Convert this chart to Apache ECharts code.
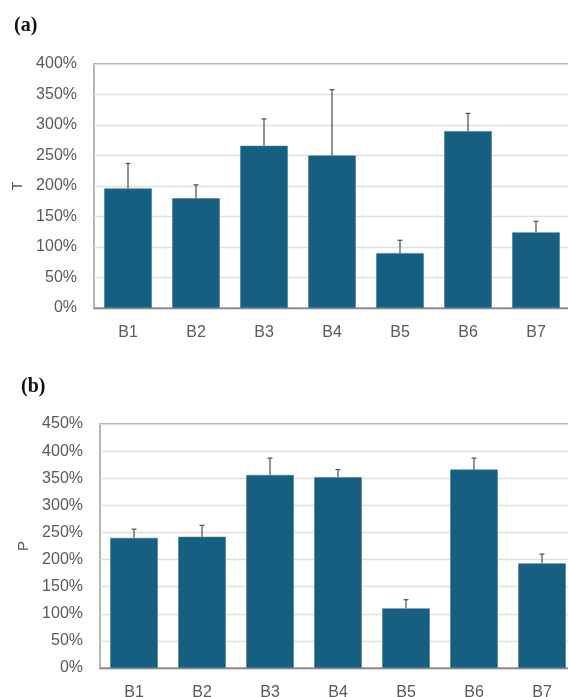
<!DOCTYPE html>
<html>
<head>
<meta charset="utf-8">
<script src="https://cdn.jsdelivr.net/npm/echarts@6/dist/echarts.min.js"></script>
<style>
  html, body { margin: 0; padding: 0; background: #fff; }
  #chart { width: 568px; height: 697px; }
</style>
</head>
<body>
<div id="chart"></div>
<script>
// Categories shared by both panels
const categories = ['B1', 'B2', 'B3', 'B4', 'B5', 'B6', 'B7'];

// Panel (a): T, mean (%) and upper error (%)
const tMean = [196, 180, 266, 250, 90, 290, 124];
const tErr  = [41, 22, 44, 108, 21, 29, 18];

// Panel (b): P, mean (%) and upper error (%)
const pMean = [240, 242, 356, 352, 110, 366, 193];
const pErr  = [16, 21, 31, 14, 16, 21, 17];

// Y-axis tick settings
const tTicks = { min: 0, max: 400, interval: 50 };
const pTicks = { min: 0, max: 450, interval: 50 };

const barColor = '#175f80';
const textColor = '#595959';
const labelFont = 'Liberation Sans, Arial, sans-serif';

function errorSeries(idx, mean, err) {
  return {
    type: 'custom',
    xAxisIndex: idx,
    yAxisIndex: idx,
    z: 5,
    data: mean.map((m, i) => [i, m, m + err[i]]),
    renderItem: function (params, api) {
      const base = api.coord([api.value(0), api.value(1)]);
      const top = api.coord([api.value(0), api.value(2)]);
      const cap = 2.5;
      const style = { stroke: '#595959', lineWidth: 1.3 };
      return {
        type: 'group',
        children: [
          { type: 'line', shape: { x1: base[0], y1: base[1], x2: top[0], y2: top[1] }, style: style },
          { type: 'line', shape: { x1: top[0] - cap, y1: top[1], x2: top[0] + cap, y2: top[1] }, style: style }
        ]
      };
    }
  };
}

function xAxis(idx) {
  return {
    type: 'category',
    gridIndex: idx,
    data: categories,
    axisLine: { show: true, lineStyle: { color: '#8c8c8c', width: 1.3 } },
    axisTick: { show: false },
    axisLabel: { color: textColor, fontSize: 16, fontFamily: labelFont, margin: 17 }
  };
}

function yAxis(idx, ticks, name, gap) {
  return {
    type: 'value',
    gridIndex: idx,
    min: ticks.min,
    max: ticks.max,
    interval: ticks.interval,
    name: name,
    nameLocation: 'middle',
    nameGap: gap,
    nameRotate: 90,
    nameTextStyle: { color: textColor, fontSize: 15, fontFamily: labelFont },
    axisLine: { show: false },
    axisTick: { show: false },
    splitLine: { show: true, lineStyle: { color: '#e0e0e0', width: 1.3 } },
    axisLabel: { color: textColor, fontSize: 16, fontFamily: labelFont, margin: 17, formatter: '{value}%' }
  };
}

function barSeries(idx, mean) {
  return {
    type: 'bar',
    xAxisIndex: idx,
    yAxisIndex: idx,
    data: mean,
    barWidth: '70%',
    itemStyle: { color: barColor, borderColor: '#3f7d99', borderWidth: 0.6 },
    z: 2
  };
}

const chart = echarts.init(document.getElementById('chart'), null, { renderer: 'canvas' });
chart.setOption({
  animation: false,
  backgroundColor: '#ffffff',
  title: [
    {
      text: '{p|(}{b|a}{p|)}',
      left: 9, top: 11,
      textStyle: { rich: {
        p: { fontFamily: 'Liberation Serif, serif', fontSize: 20, color: '#111' },
        b: { fontFamily: 'Liberation Serif, serif', fontSize: 20, fontWeight: 'bold', color: '#111' }
      } }
    },
    {
      text: '{p|(}{b|b}{p|)}',
      left: 16, top: 372,
      textStyle: { rich: {
        p: { fontFamily: 'Liberation Serif, serif', fontSize: 20, color: '#111' },
        b: { fontFamily: 'Liberation Serif, serif', fontSize: 20, fontWeight: 'bold', color: '#111' }
      } }
    }
  ],
  grid: [
    { left: 94, top: 64, width: 476, height: 244, outerBoundsMode: 'none', containLabel: false,
      show: true, borderColor: '#8c8c8c', borderWidth: 1.3 },
    { left: 100, top: 424, width: 476, height: 244, outerBoundsMode: 'none', containLabel: false,
      show: true, borderColor: '#8c8c8c', borderWidth: 1.3 }
  ],
  xAxis: [xAxis(0), xAxis(1)],
  yAxis: [yAxis(0, tTicks, 'T', 64), yAxis(1, pTicks, 'P', 62)],
  series: [
    barSeries(0, tMean),
    errorSeries(0, tMean, tErr),
    barSeries(1, pMean),
    errorSeries(1, pMean, pErr)
  ]
});
</script>
</body>
</html>
